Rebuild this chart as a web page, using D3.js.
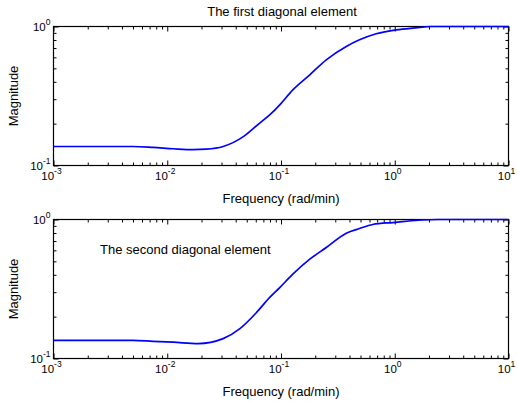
<!DOCTYPE html>
<html>
<head>
<meta charset="utf-8">
<script src="https://cdn.jsdelivr.net/npm/d3@7"></script>
<style>
  body { margin: 0; background: #fff; }
  text { font-family: "Liberation Sans", Arial, sans-serif; fill: #000; }
</style>
</head>
<body>
<script>
// data (frequency in rad/min, magnitude)
var freq1 = [0.001, 0.005, 0.0075, 0.0113, 0.0169, 0.022, 0.031, 0.047, 0.065, 0.08, 0.0975, 0.127, 0.179, 0.25, 0.375, 0.49, 0.687, 1.03, 1.6, 2.06, 10];
var mag1  = [0.137, 0.137, 0.135, 0.132, 0.130, 0.131, 0.137, 0.162, 0.202, 0.232, 0.273, 0.350, 0.449, 0.576, 0.718, 0.802, 0.886, 0.946, 0.98, 1.0, 1.0];

var freq2 = [0.001, 0.005, 0.0075, 0.0113, 0.0187, 0.031, 0.0435, 0.0608, 0.0796, 0.0975, 0.127, 0.179, 0.25, 0.375, 0.49, 0.641, 0.96, 2.4, 10];
var mag2  = [0.135, 0.135, 0.133, 0.131, 0.128, 0.139, 0.164, 0.214, 0.275, 0.324, 0.404, 0.518, 0.629, 0.797, 0.861, 0.920, 0.951, 1.0, 1.0];

var xTicks = [-3, -2, -1, 0, 1];   // exponents
var yTicks = [-1, 0];

var titles = ["The first diagonal element", "The second diagonal element"];
var xLabel = "Frequency (rad/min)";
var yLabel = "Magnitude";

var width = 517, height = 403;
var left = 53.5, right = 508.5;

var svg = d3.select("body").append("svg")
    .attr("width", width)
    .attr("height", height);

var x = d3.scaleLog().domain([1e-3, 1e1]).range([left, right]);

// minor tick values 2..9 in every decade
function minors(lo, hi) {
  var out = [];
  for (var e = lo; e < hi; e++)
    for (var k = 2; k <= 9; k++) out.push(k * Math.pow(10, e));
  return out;
}
var xMinor = minors(-3, 1);
var yMinor = minors(-1, 0);

function panel(top, bottom, freq, mag, titlePos) {
  var y = d3.scaleLog().domain([0.1, 1]).range([bottom, top]);
  var g = svg.append("g");

  // tick marks on all four sides, pointing inward
  function ticks(axisFn, scale, vals, size, tr) {
    g.append("g")
        .attr("transform", tr)
        .call(axisFn(scale).tickValues(vals).tickSize(size).tickFormat(""))
        .call(function(s) { s.select(".domain").remove(); })
        .selectAll("line").attr("stroke", "#000");
  }
  var xMaj = xTicks.map(function(e) { return Math.pow(10, e); });
  var yMaj = yTicks.map(function(e) { return Math.pow(10, e); });
  ticks(d3.axisBottom, x, xMaj, -5, "translate(0," + bottom + ")");
  ticks(d3.axisBottom, x, xMinor, -3, "translate(0," + bottom + ")");
  ticks(d3.axisTop, x, xMaj, -5, "translate(0," + top + ")");
  ticks(d3.axisTop, x, xMinor, -3, "translate(0," + top + ")");
  ticks(d3.axisLeft, y, yMaj, -5, "translate(" + left + ",0)");
  ticks(d3.axisLeft, y, yMinor, -3, "translate(" + left + ",0)");
  ticks(d3.axisRight, y, yMaj, -5, "translate(" + right + ",0)");
  ticks(d3.axisRight, y, yMinor, -3, "translate(" + right + ",0)");

  // box
  g.append("rect")
      .attr("x", left).attr("y", top)
      .attr("width", right - left).attr("height", bottom - top)
      .attr("fill", "none").attr("stroke", "#000").attr("stroke-width", 1.2);

  // the curve
  var line = d3.line()
      .x(function(d, i) { return x(freq[i]); })
      .y(function(d, i) { return y(mag[i]); })
      .curve(d3.curveMonotoneX);
  g.append("path")
      .datum(mag)
      .attr("fill", "none")
      .attr("stroke", "#0000ff")
      .attr("stroke-width", 1.7)
      .attr("d", line);

  // x tick labels  10^e
  xTicks.forEach(function(e) {
    var t = g.append("text")
        .attr("x", x(Math.pow(10, e)) - 2)
        .attr("y", bottom + 14)
        .attr("text-anchor", "middle")
        .style("font-size", "11.5px");
    t.append("tspan").text("10");
    t.append("tspan").attr("dy", -6).style("font-size", "8.5px").text(e);
  });

  // y tick labels
  yTicks.forEach(function(e) {
    var t = g.append("text")
        .attr("x", left - 3)
        .attr("y", y(Math.pow(10, e)) + 4)
        .attr("text-anchor", "end")
        .style("font-size", "11.5px");
    t.append("tspan").text("10");
    t.append("tspan").attr("dy", -6).style("font-size", "8.5px").text(e);
  });

  g.append("text")
      .attr("x", (left + right) / 2)
      .attr("y", bottom + 37)
      .attr("text-anchor", "middle")
      .style("font-size", "13px")
      .text(xLabel);

  g.append("text")
      .attr("transform", "translate(18," + (top + bottom) / 2 + ") rotate(-90)")
      .attr("text-anchor", "middle")
      .style("font-size", "13px")
      .text(yLabel);

  g.append("text")
      .attr("x", titlePos[0])
      .attr("y", titlePos[1])
      .attr("text-anchor", titlePos[2])
      .style("font-size", "13px")
      .text(titlePos[3]);
}

panel(26.5, 165.5, freq1, mag1, [282, 16, "middle", titles[0]]);
panel(219.5, 358.5, freq2, mag2, [100, 254, "start", titles[1]]);
</script>
</body>
</html>
